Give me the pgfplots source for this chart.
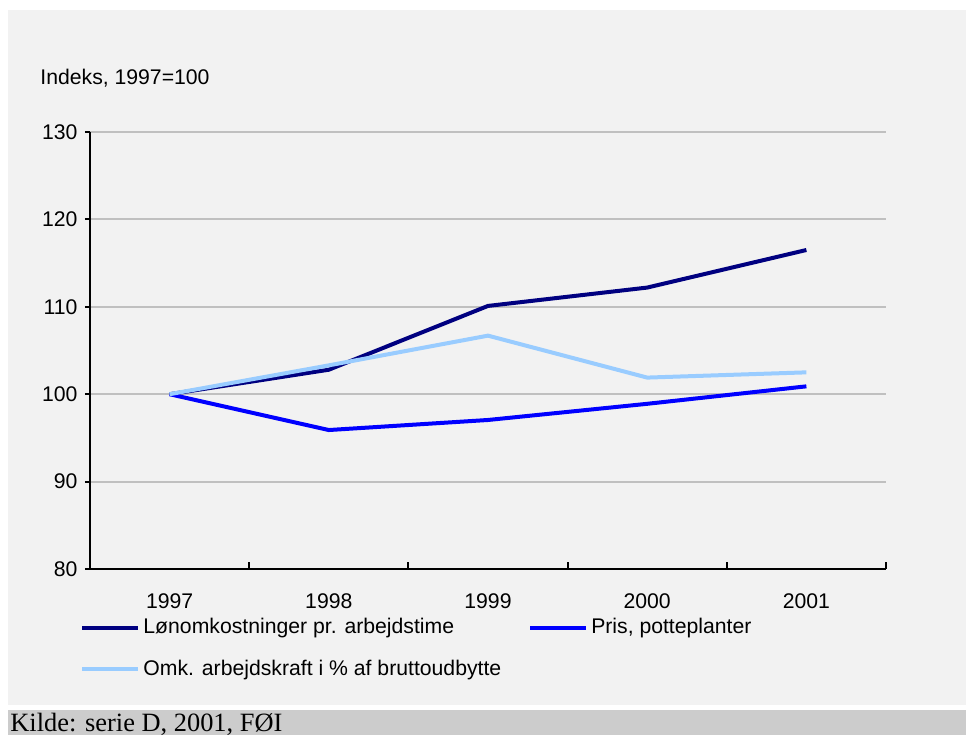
\documentclass[border=0pt]{standalone}
\usepackage{fontspec}
\setmainfont{Liberation Sans}
\newfontfamily\serifk{Liberation Serif}
\usepackage{pgfplots}
\pgfplotsset{compat=1.18}
\definecolor{bg}{HTML}{F2F2F2}
\definecolor{strip}{HTML}{CCCCCC}
\definecolor{gridc}{HTML}{C0C0C0}
\definecolor{navy}{HTML}{000080}
\definecolor{pblue}{HTML}{0000FF}
\definecolor{lblue}{HTML}{99CCFF}
\newcommand{\lab}{\fontsize{10.6}{12.7}\selectfont}
\begin{document}
\lab
\begin{tikzpicture}
\useasboundingbox (0,0) rectangle (483pt,367.5pt);
\fill[white] (0,0) rectangle (483pt,367.5pt);
\fill[bg] (4pt,15pt) rectangle (483pt,362.5pt);
\fill[strip] (4pt,0) rectangle (483pt,12.5pt);
\begin{scope}
\clip (0,0) rectangle (483pt,367.5pt);
\node[anchor=base west, inner sep=0pt, font=\serifk\fontsize{13.2}{15}\selectfont] at (5pt,1.5pt) {Kilde: serie D, 2001, FØI};
\end{scope}
\node[anchor=west, inner sep=0pt, font=\lab] at (20pt,328.5pt) {Indeks, 1997=100};
\begin{axis}[
  at={(45pt,83pt)}, anchor=south west,
  scale only axis, width=398pt, height=218.5pt,
  xmin=-0.5, xmax=4.5, ymin=80, ymax=130,
  axis x line*=bottom, axis y line*=left,
  axis line style={black, line width=1pt},
  xtick={0,1,2,3,4}, xticklabels={1997,1998,1999,2000,2001},
  major x tick style={draw=none},
  minor xtick={-0.5,0.5,1.5,2.5,3.5,4.5},
  minor tick length=3.5pt,
  major tick length=2.5pt,
  tick align=outside,
  every minor tick/.append style={yshift=3.5pt},
  ytick={80,90,...,130},
  ymajorgrids, grid style={gridc, line width=1pt},
  tick style={black, line width=1pt},
  /pgf/number format/assume math mode=true,
  every tick label/.append style={font=\lab},
  xticklabel style={yshift=-6pt},
  legend columns=2,
  legend cell align=left,
  legend style={at={(-0.0125,-0.112)}, anchor=north west, draw=none, fill=none,
    inner sep=0pt, row sep=11.5pt, column sep=1.5pt, font=\lab,
    /tikz/every even column/.append style={column sep=13.5pt},
    nodes={inner sep=0pt}},
  legend image code/.code={\draw[#1] (0pt,0pt) -- (28pt,0pt);},
]
\addplot[navy, line width=2pt] coordinates {(0,100) (1,102.8) (2,110.1) (3,112.2) (4,116.5)};
\addlegendentry{Lønomkostninger pr. arbejdstime}
\addplot[pblue, line width=2pt] coordinates {(0,100) (1,95.9) (2,97.05) (3,98.9) (4,100.9)};
\addlegendentry{Pris, potteplanter}
\addplot[lblue, line width=2pt] coordinates {(0,100) (1,103.3) (2,106.7) (3,101.9) (4,102.5)};
\addlegendentry{Omk. arbejdskraft i \% af bruttoudbytte}
\end{axis}
\end{tikzpicture}
\end{document}
